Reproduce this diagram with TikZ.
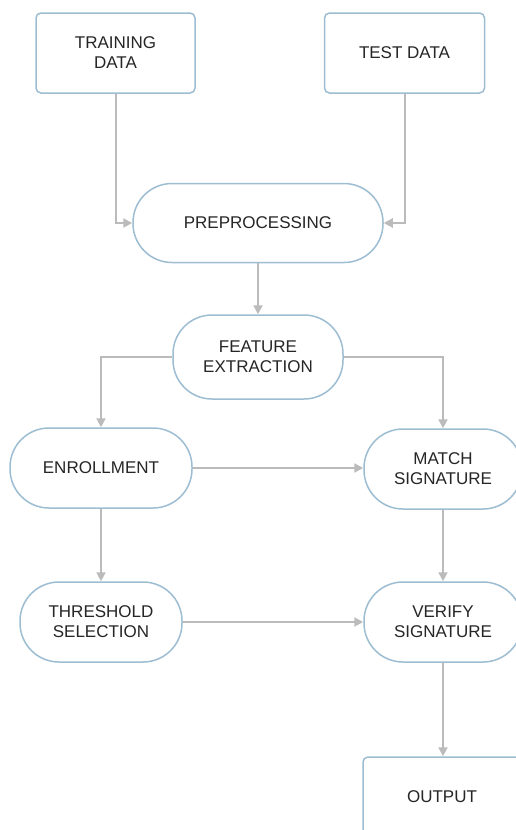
\documentclass[tikz,border=0pt]{standalone}
\usepackage{fontspec}
\setmainfont{Liberation Sans}
\usetikzlibrary{arrows.meta}
\definecolor{bord}{HTML}{9DBDD2}
\definecolor{arr}{HTML}{BBBBBB}
\definecolor{txt}{HTML}{262626}
\begin{document}
\begin{tikzpicture}[x=1pt,y=-1pt,
  every node/.style={font=\fontsize{17}{20}\selectfont, text=txt, align=center, inner sep=0pt},
  databox/.style={draw=bord, line width=1.5pt, rounded corners=5pt, fill=white},
  stadium/.style={draw=bord, line width=1.5pt, rounded corners=39pt, fill=white, minimum height=79pt},
  conn/.style={draw=arr, line width=2pt, -{Triangle[length=9pt,width=9pt]}}]
\useasboundingbox (0,0) rectangle (516,830);
\clip (0,0) rectangle (516,830);
\fill[white] (0,0) rectangle (516,830);
\node[databox, minimum width=159pt, minimum height=80pt] (train) at (115.5,53) {TRAINING\\DATA};
\node[databox, minimum width=160pt, minimum height=80pt] (test) at (404.5,53) {TEST DATA};
\node[stadium, minimum width=250pt] (pre) at (258,223) {PREPROCESSING};
\node[stadium, minimum width=170pt, minimum height=84pt] (fe) at (258,357) {FEATURE\\EXTRACTION};
\node[stadium, minimum width=182pt, minimum height=80pt] (enr) at (101,468) {ENROLLMENT};
\node[stadium, minimum width=158pt, minimum height=80pt] (match) at (443,469) {MATCH\\SIGNATURE};
\node[stadium, minimum width=162pt, minimum height=80pt] (thr) at (101,622) {THRESHOLD\\SELECTION};
\node[stadium, minimum width=158pt, minimum height=80pt] (ver) at (443,622) {VERIFY\\SIGNATURE};
\node[databox, minimum width=160pt, minimum height=90pt] (out) at (443,802) {};
\node (outtxt) at (442,797) {OUTPUT};
\draw[conn] (train.south) |- (pre.west);
\draw[conn] (test.south) |- (pre.east);
\draw[conn] (pre.south) -- (fe.north);
\draw[conn] (fe.west) -| (enr.north);
\draw[conn] (fe.east) -| (match.north);
\draw[conn] (enr.east) -- (enr.east -| match.west);
\draw[conn] (enr.south) -- (thr.north);
\draw[conn] (match.south) -- (ver.north);
\draw[conn] (thr.east) -- (ver.west);
\draw[conn] (ver.south) -- (out.north);
\end{tikzpicture}
\end{document}
